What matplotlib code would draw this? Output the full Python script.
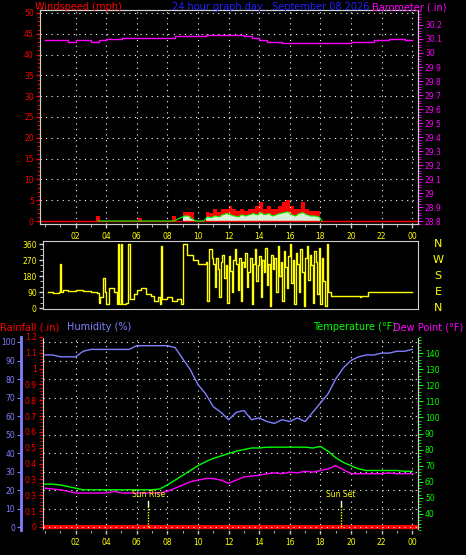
import numpy as np
import matplotlib.pyplot as plt
from matplotlib.ticker import MultipleLocator, FixedLocator

plt.rcParams['font.family'] = ['DejaVu Sans']

# ---- data ----
hours = np.arange(0, 24.01, 0.5)
humidity = [93, 93, 92, 92, 92, 95, 96, 96, 96, 96, 96, 96, 98, 98, 98, 98, 98, 97,
            91, 85, 77, 72, 65, 62, 58, 62, 63, 58, 59, 57, 56, 58, 57, 59, 57, 62,
            67, 72, 80, 86, 90, 92, 93, 93, 94, 94, 95, 95, 96]
temperature = [58.5, 58.5, 58, 57, 56, 55, 55, 55, 55, 55, 55, 55, 55, 55, 55, 55.5,
               58, 61, 64, 67, 70, 72.5, 74.5, 76, 77.5, 79, 80, 81, 81, 81.5, 81.5,
               81.5, 81.5, 81.5, 81.5, 81, 82, 79, 75, 72, 70, 68, 67, 67, 67, 67, 67, 66.5, 66.5]
dewpoint = [56, 55.5, 55, 54, 53, 53, 53, 53, 53, 54, 53, 53, 53, 53, 53, 53, 54,
            56, 58, 60, 61, 62, 62, 61, 59, 61, 63, 63.5, 64, 65, 65.5, 65, 66, 65.5,
            66.5, 66, 67, 68, 70, 67.5, 65, 65, 65, 65, 65, 65.5, 65, 65, 65]
barometer = [30.09, 30.09, 30.09, 30.08, 30.09, 30.09, 30.08, 30.09, 30.10, 30.10,
             30.11, 30.11, 30.11, 30.11, 30.11, 30.11, 30.11, 30.12, 30.12, 30.12,
             30.12, 30.13, 30.13, 30.13, 30.13, 30.13, 30.12, 30.11, 30.09, 30.08,
             30.08, 30.07, 30.07, 30.07, 30.07, 30.07, 30.07, 30.07, 30.07, 30.07,
             30.08, 30.08, 30.08, 30.09, 30.09, 30.10, 30.10, 30.09, 30.09]
baro_ticks = [28.8, 28.9, 29.0, 29.1, 29.2, 29.3, 29.4, 29.5, 29.6, 29.7, 29.8, 29.9,
              30.0, 30.1, 30.2]

gust_t = [3.35, 6.1, 8.3] + list(np.arange(9.0, 18.01, 0.25))
gust = [1.2, 0.8, 1.2,
        2.2, 2.2, 2.2, 0, 0, 0, 2.2, 2, 3, 2.2, 3, 3, 3.5, 3, 2.5, 3, 2.5, 3, 3,
        3.5, 4.5, 3, 3.5, 3, 3, 3.5, 4.5, 5, 3.5, 3, 3, 4.5, 3, 2.5, 2.5, 2.5, 0]
avg = [0, 0, 0,
       1.2, 1.2, 0.5, 0, 0, 0, 1, 0.8, 1.2, 1, 1.5, 1.8, 1.5, 1.2, 1, 1.5, 1.2, 1.5, 1.8,
       1.5, 2, 1.5, 1.8, 1.2, 1.5, 1.8, 2, 2.2, 1.5, 1.2, 1.8, 2, 1.5, 1.2, 1.2, 1, 0]

dir_t = [0.2, 0.5, 0.9, 1.0, 1.05, 1.2, 1.5, 2.0, 2.5, 3.0, 3.4, 3.5, 3.6, 3.8, 3.9,
         4.0, 4.2, 4.5, 4.7, 4.75, 4.85, 4.95, 5.05, 5.3, 5.45, 5.55, 5.8, 6.0, 6.3,
         6.6, 6.9, 7.1, 7.4, 7.5, 7.6, 7.65, 8.0, 8.3, 8.6, 8.9, 9.0, 9.3, 9.7, 10.0,
         10.5, 10.6, 10.7, 10.9]
direction = [90, 85, 90, 250, 90, 100, 95, 100, 95, 90, 85, 30, 60, 170, 90, 20, 110,
             90, 20, 360, 20, 360, 20, 30, 360, 50, 80, 100, 110, 80, 70, 40, 60, 20,
             350, 50, 60, 40, 50, 20, 360, 300, 270, 250, 260, 40, 330, 280]
noisy_t = list(np.arange(11.0, 18.55, 0.1))
noisy_dir = [250, 120, 280, 220, 60, 260, 300, 170, 240, 30, 290, 210, 90, 270, 330,
             250, 100, 280, 40, 260, 230, 310, 120, 200, 280, 20, 250, 330, 150, 240,
             290, 60, 270, 200, 340, 130, 250, 10, 300, 220, 280, 90, 350, 180, 260,
             40, 320, 230, 110, 290, 360, 140, 270, 20, 310, 250, 90, 330, 200, 10,
             280, 350, 160, 300, 240, 30, 320, 260, 80, 340, 20, 280, 150, 10, 360, 90]
tail_t = [18.7, 20.6, 20.65, 21.1, 24.0]
tail_dir = [70, 60, 70, 90, 90]
dir_t = dir_t + noisy_t[:len(noisy_dir)] + tail_t
direction = direction + noisy_dir[:len(noisy_t)] + tail_dir

sun_rise, sun_set = 6.75, 19.35

# ---- styling ----
W, H = 466, 555
fig = plt.figure(figsize=(W / 100, H / 100), dpi=100, facecolor='black')
YEL = '#ffff00'
SPINE = '#d0d0d0'
FS = 5.5
TFS = 7


def box(x0, y0, x1, y1):
    return [x0 / W, 1 - y1 / H, (x1 - x0) / W, (y1 - y0) / H]


def style(ax):
    ax.set_facecolor('black')
    for s in ax.spines.values():
        s.set_color(SPINE)
    ax.tick_params(colors=SPINE, labelsize=FS, length=3, width=1, pad=1.5)


def xaxis(ax, lo):
    ax.set_xlim(lo, 24.38)
    ax.xaxis.set_major_locator(FixedLocator(range(2, 25, 2)))
    ax.xaxis.set_minor_locator(MultipleLocator(1))
    ax.set_xticklabels(['%02d' % (h % 24) for h in range(2, 25, 2)])
    ax.tick_params(axis='x', which='both', colors=SPINE, labelcolor=YEL, pad=3)
    ax.tick_params(axis='x', which='minor', length=2)


def grid(ax):
    ax.grid(True, color='white', linestyle=(0, (1, 4)), linewidth=0.8)


# ---- top: wind speed + barometer ----
ax1 = fig.add_axes(box(40, 10, 418, 224))
style(ax1)
xaxis(ax1, -0.33)
ax1.set_ylim(-0.72, 50.72)
ax1.yaxis.set_major_locator(MultipleLocator(5))
ax1.yaxis.set_minor_locator(MultipleLocator(1))
ax1.tick_params(axis='y', which='both', colors='red', labelcolor='red')
ax1.tick_params(axis='y', which='minor', length=2)
grid(ax1)
ax1.axhline(0, color='red', lw=1)
ax1.bar(gust_t, gust, width=0.25, align='edge', color='red', lw=0)
ax1.bar(gust_t, avg, width=0.25, align='edge', color='#d8f0d8', lw=0)
ax1.plot(np.array(gust_t) + 0.12, avg, color='#00ff00', lw=0.8)
ax1b = ax1.twinx()
ax1b.set_ylim(28.779, 30.307)
ax1b.yaxis.set_major_locator(FixedLocator(baro_ticks))
ax1b.yaxis.set_minor_locator(MultipleLocator(0.02))
ax1b.yaxis.set_major_formatter(lambda v, p: '%g' % round(v, 1))
ax1b.tick_params(axis='y', which='both', colors='magenta', labelcolor='magenta',
                 labelsize=FS, pad=1.5)
ax1b.tick_params(axis='y', which='minor', length=2)
for s in ax1b.spines.values():
    s.set_color(SPINE)
ax1b.plot(hours, barometer, color='magenta', lw=1, drawstyle='steps-post')

fig.text(35 / W, 1 - 7 / H, 'Windspeed (mph)', color='red', fontsize=TFS, va='center')
fig.text(172 / W, 1 - 7 / H, '24 hour graph day : September 08 2026', color='#2020ff',
         fontsize=TFS, va='center')
fig.text(372 / W, 1 - 7 / H, 'Barometer (.in)', color='magenta', fontsize=TFS, va='center')

# ---- middle: wind direction ----
ax2 = fig.add_axes(box(43, 241, 418, 309))
style(ax2)
ax2.set_xlim(-0.13, 24.38)
ax2.set_xticks([])
ax2.set_ylim(-5.6, 377)
ax2.yaxis.set_major_locator(FixedLocator([0, 90, 180, 270, 360]))
ax2.yaxis.set_minor_locator(MultipleLocator(30))
ax2.tick_params(axis='y', which='both', colors=SPINE, labelcolor=YEL)
ax2.tick_params(axis='y', which='minor', length=2)
ax2.plot(dir_t, direction, color=YEL, lw=1, drawstyle='steps-post')
for i, c in enumerate('NWSEN'):
    fig.text(438 / W, 1 - (244 + i * 16) / H, c, color=YEL, fontsize=8,
             ha='center', va='center')

# ---- bottom: rain, humidity, temperature, dew point ----
ax3 = fig.add_axes(box(43, 337, 418, 530))
style(ax3)
xaxis(ax3, -0.13)
ax3.set_ylim(-0.019, 1.2)
rain_ticks = [round(0.1 * i, 1) for i in range(13)]
ax3.yaxis.set_major_locator(FixedLocator(rain_ticks))
ax3.set_yticklabels(['0', '0.1', '0.3'] + ['%g' % v for v in rain_ticks[3:]])
ax3.yaxis.set_minor_locator(MultipleLocator(0.02))
ax3.tick_params(axis='y', which='both', colors='red', labelcolor='red')
ax3.tick_params(axis='y', which='minor', length=2)
ax3.axhline(0, color='red', lw=3)

axh = ax3.twinx()
axh.set_ylim(-1.6, 102.7)
axh.yaxis.tick_left()
axh.spines['left'].set_position(('outward', 16))
axh.spines['left'].set_color('#8080ff')
axh.spines['left'].set_linewidth(2)
axh.spines['right'].set_visible(False)
axh.yaxis.set_major_locator(MultipleLocator(10))
axh.tick_params(axis='y', colors='#8080ff', labelcolor='#8080ff', labelsize=FS,
                length=3, pad=1)
axh.grid(True, axis='y', color='white', linestyle=(0, (1, 4)), linewidth=0.8)
axh.grid(False, axis='x')
ax3.grid(True, axis='x', color='white', linestyle=(0, (1, 4)), linewidth=0.8)
axh.plot(hours, humidity, color='#8080ff', lw=1)

axt = ax3.twinx()
axt.set_ylim(30, 150)
axt.yaxis.set_minor_locator(MultipleLocator(2))
axt.tick_params(axis='y', which='both', colors='#00ff00', labelcolor='#00ff00',
                labelsize=FS, pad=1.5)
axt.tick_params(axis='y', which='minor', length=2)
axt.spines['right'].set_color(SPINE)
axt.spines['left'].set_visible(False)
axt.set_yticks([t for t in range(40, 150, 10)])
axt.plot(hours, temperature, color='#00ff00', lw=1)
axt.plot(hours, dewpoint, color='magenta', lw=1)

for t, lab in [(sun_rise, 'Sun Rise'), (sun_set, 'Sun Set')]:
    axt.plot([t, t], [48, 45], color='white', lw=1)
    axt.plot([t, t], [45, 31], color=YEL, lw=1, linestyle=(0, (1, 1)))
    axt.text(t, 49, lab, color=YEL, fontsize=FS, ha='center', va='bottom')

fig.text(0, 1 - 327 / H, 'Rainfall (.in)', color='red', fontsize=TFS, va='center')
fig.text(67 / W, 1 - 327 / H, 'Humidity (%)', color='#8080ff', fontsize=TFS, va='center')
fig.text(313 / W, 1 - 327 / H, 'Temperature (°F)', color='#00ff00', fontsize=TFS, va='center')
fig.text(393 / W, 1 - 327 / H, 'Dew Point (°F)', color='magenta', fontsize=TFS, va='center')

fig.savefig('out.png', dpi=100, facecolor='black')
